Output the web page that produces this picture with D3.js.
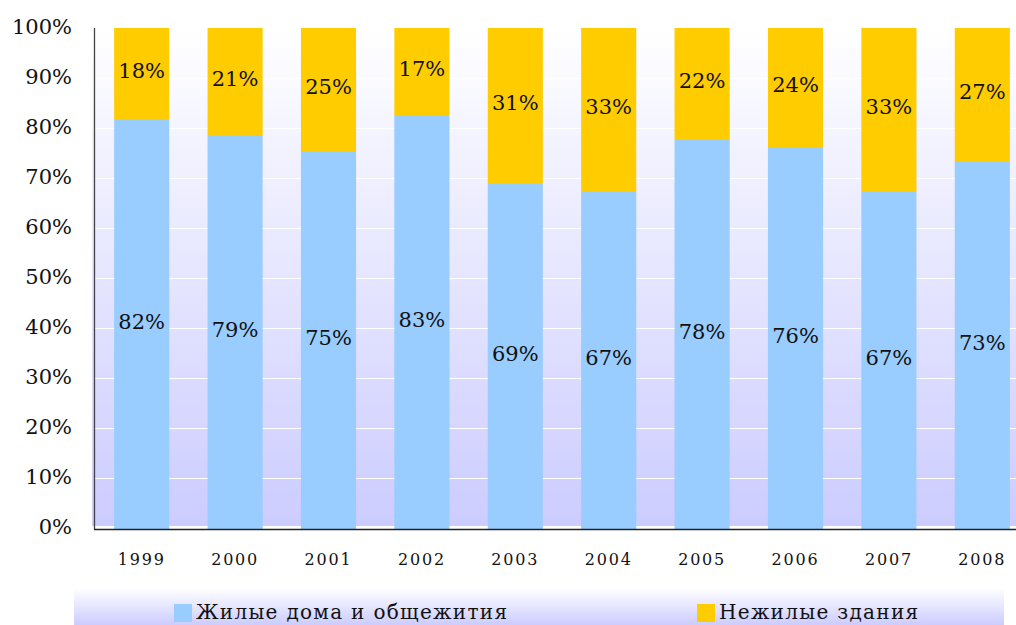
<!DOCTYPE html>
<html>
<head>
<meta charset="utf-8">
<script src="https://cdn.jsdelivr.net/npm/d3@7"></script>
<style>
  body { margin: 0; background: #fff; }
  text { font-family: "DejaVu Serif", serif; fill: #111; }
</style>
</head>
<body>
<script>
var years = ["1999", "2000", "2001", "2002", "2003", "2004", "2005", "2006", "2007", "2008"];
var housing = [81.6, 78.6, 75.2, 82.6, 68.8, 67.2, 77.6, 76.0, 67.2, 73.2];
var nonHousing = [18.4, 21.4, 24.8, 17.4, 31.2, 32.8, 22.4, 24.0, 32.8, 26.8];
var yTicks = [0, 10, 20, 30, 40, 50, 60, 70, 80, 90, 100];
var seriesNames = ["Жилые дома и общежития", "Нежилые здания"];
var colors = ["#99ccff", "#ffcc00"];

var width = 1016, height = 625;
var margin = {top: 28, right: 0, bottom: 97, left: 94};
var plotBottom = height - margin.bottom; // 528

var svg = d3.select("body").append("svg")
    .attr("width", width)
    .attr("height", height);

var defs = svg.append("defs");
var grad = defs.append("linearGradient").attr("id", "bg")
    .attr("x1", 0).attr("y1", 0).attr("x2", 0).attr("y2", 1);
grad.append("stop").attr("offset", "0%").attr("stop-color", "#ffffff");
grad.append("stop").attr("offset", "100%").attr("stop-color", "#ccccff");

var x = d3.scaleBand()
    .domain(years)
    .range([margin.left + 1, margin.left + 1 + 934])
    .paddingInner(0.41)
    .paddingOuter(0.205);

var y = d3.scaleLinear()
    .domain([0, 100])
    .range([plotBottom, margin.top]);

// plot background
svg.append("rect")
    .attr("x", margin.left - 2)
    .attr("y", margin.top)
    .attr("width", width - margin.left + 2)
    .attr("height", plotBottom - 2 - margin.top)
    .attr("fill", "url(#bg)");

// grid lines
svg.append("g").selectAll("line")
    .data(yTicks.filter(function(d) { return d > 0; }))
    .enter().append("line")
    .attr("x1", margin.left)
    .attr("x2", width)
    .attr("y1", function(d) { return Math.round(y(d)) + 0.5; })
    .attr("y2", function(d) { return Math.round(y(d)) + 0.5; })
    .attr("stroke", "#ffffff")
    .attr("stroke-width", 1);

// stacked bars
var rows = years.map(function(yr, i) {
  return {year: yr, a: housing[i], b: nonHousing[i]};
});

var bars = svg.append("g").selectAll("g")
    .data(rows)
    .enter().append("g");

bars.append("rect")
    .attr("x", function(d) { return x(d.year); })
    .attr("width", x.bandwidth())
    .attr("y", function(d) { return y(d.a); })
    .attr("height", function(d) { return y(0) - y(d.a) + 1; })
    .attr("fill", colors[0]);

bars.append("rect")
    .attr("x", function(d) { return x(d.year); })
    .attr("width", x.bandwidth())
    .attr("y", function(d) { return y(d.a + d.b); })
    .attr("height", function(d) { return y(d.a) - y(d.a + d.b); })
    .attr("fill", colors[1]);

bars.append("text")
    .attr("x", function(d) { return x(d.year) + x.bandwidth() / 2; })
    .attr("y", function(d) { return (y(0) + y(d.a)) / 2 - 2; })
    .attr("dy", "0.35em")
    .attr("text-anchor", "middle")
    .style("font-size", "21px")
    .text(function(d) { return Math.round(d.a) + "%"; });

bars.append("text")
    .attr("x", function(d) { return x(d.year) + x.bandwidth() / 2; })
    .attr("y", function(d) { return (y(d.a) + y(d.a + d.b)) / 2 - 3; })
    .attr("dy", "0.35em")
    .attr("text-anchor", "middle")
    .style("font-size", "21px")
    .text(function(d) { return Math.round(d.b) + "%"; });

// axes
var yAxis = d3.axisLeft(y)
    .tickValues(yTicks)
    .tickSize(0)
    .tickPadding(22)
    .tickFormat(function(d) { return d + "%"; });

var gy = svg.append("g")
    .attr("transform", "translate(" + margin.left + ",0)")
    .call(yAxis);
gy.select(".domain").remove();
gy.selectAll("text")
    .style("font-size", "21px")
    .style("font-family", "DejaVu Serif, serif")
    .attr("dy", "0.28em")
    .attr("fill", "#111");

svg.append("line")
    .attr("x1", margin.left + 0.5).attr("x2", margin.left + 0.5)
    .attr("y1", margin.top).attr("y2", plotBottom + 1.5)
    .attr("stroke", "#444").attr("stroke-width", 1.3);

var xAxis = d3.axisBottom(x)
    .tickSize(0)
    .tickPadding(25);

var gx = svg.append("g")
    .attr("transform", "translate(0," + (plotBottom + 1) + ")")
    .call(xAxis);
gx.select(".domain").remove();
gx.selectAll("text")
    .style("font-size", "16px")
    .style("letter-spacing", "1.8px")
    .style("font-family", "DejaVu Serif, serif")
    .attr("fill", "#111");

svg.append("line")
    .attr("x1", margin.left).attr("x2", width)
    .attr("y1", plotBottom + 1.5).attr("y2", plotBottom + 1.5)
    .attr("stroke", "#222").attr("stroke-width", 1.3);

// legend
svg.append("rect")
    .attr("x", 74).attr("y", 588)
    .attr("width", 930).attr("height", 37)
    .attr("fill", "url(#bg)");

var legendX = [174, 697];
var legend = svg.append("g").selectAll("g")
    .data(seriesNames)
    .enter().append("g")
    .attr("transform", function(d, i) { return "translate(" + legendX[i] + ",604)"; });

legend.append("rect")
    .attr("width", 18).attr("height", 18)
    .attr("fill", function(d, i) { return colors[i]; });

legend.append("text")
    .attr("x", 22)
    .attr("y", 8)
    .attr("dy", "0.35em")
    .style("font-size", "20px")
    .style("letter-spacing", "1.3px")
    .text(function(d) { return d; });
</script>
</body>
</html>
